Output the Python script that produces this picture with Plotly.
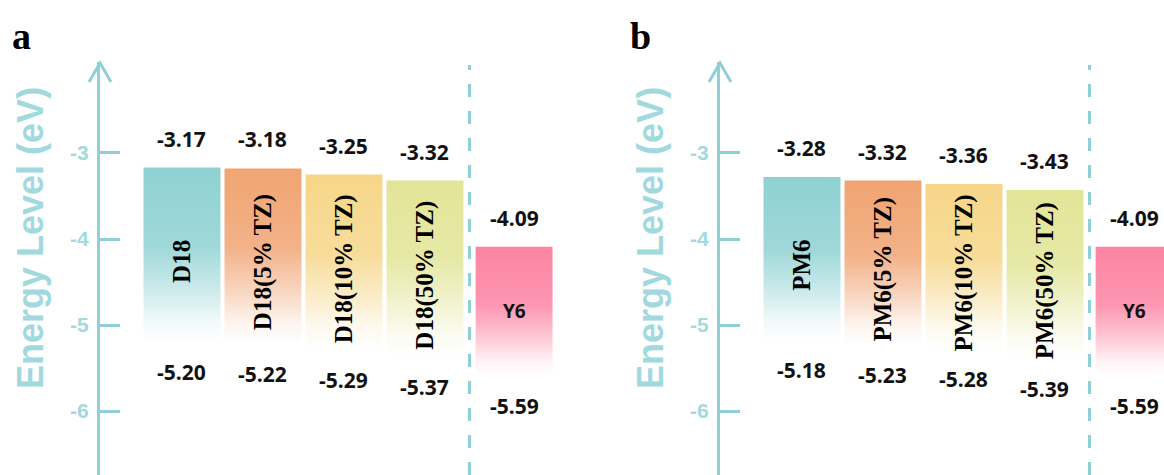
import plotly.graph_objects as go

# ---------------- data ----------------
names_a = ["D18", "D18(5% TZ)", "D18(10% TZ)", "D18(50% TZ)", "Y6"]
lumo_a = [-3.17, -3.18, -3.25, -3.32, -4.09]
homo_a = [-5.20, -5.22, -5.29, -5.37, -5.59]

names_b = ["PM6", "PM6(5% TZ)", "PM6(10% TZ)", "PM6(50% TZ)", "Y6"]
lumo_b = [-3.28, -3.32, -3.36, -3.43, -4.09]
homo_b = [-5.18, -5.23, -5.28, -5.39, -5.59]

colors = ["#8fd1d2", "#f0a472", "#f6d688", "#e2e597", "#fc84a3"]
yticks = [-3, -4, -5, -6]

# ---------------- style ----------------
W, H = 1164, 475
AXC = "#8ecfd8"
TICKC = "#a3d9df"
TITLEC = "#a2d9df"
positions = [0, 1, 2, 3, 4.1]   # category slots (Y6 separated by the divider)
divider = 3.55
bw = 0.95
yrange = [-6.744, -1.942]
top_px = 62
ydom = [0, 1 - top_px / H]
xr_a = [-1.012, -1.012 + 470 / 81]
xr_b = [-1.012, -1.012 + 444 / 81]
dom_a = [100 / W, 570 / W]
dom_b = [720 / W, 1.0]

def rgba(hexc, a):
    h = hexc.lstrip("#")
    r, g, b = int(h[0:2], 16), int(h[2:4], 16), int(h[4:6], 16)
    return f"rgba({r},{g},{b},{a})"

def py(px):
    """pixel row -> paper y (margins are zero)"""
    return 1 - px / H

fig = go.Figure()
annotations = []
shapes = []

panels = [
    ("x", "y", names_a, lumo_a, homo_a, "a", dom_a, 10),
    ("x2", "y2", names_b, lumo_b, homo_b, "b", dom_b, 628),
]

vfont = dict(family="Open Sans", size=21, color="#111111", weight="bold")
nfont = dict(family="Liberation Serif", size=25, color="#000000", weight="bold")

for xa, ya, names, lumo, homo, letter, dom, letter_px in panels:
    for i, (nm, top, bot) in enumerate(zip(names, lumo, homo)):
        c = positions[i]
        col = colors[i]
        fig.add_trace(go.Scatter(
            x=[c - bw / 2, c + bw / 2, c + bw / 2, c - bw / 2, c - bw / 2],
            y=[bot, bot, top, top, bot],
            mode="lines", line=dict(width=0), fill="toself",
            fillgradient=dict(
                type="vertical",
                colorscale=[[0, rgba(col, 0.0)], [0.12, rgba(col, 0.12)],
                            [0.3, rgba(col, 0.45)], [0.55, rgba(col, 0.85)],
                            [1, rgba(col, 1.0)]],
            ),
            xaxis=xa, yaxis=ya, showlegend=False, hoverinfo="skip",
        ))
        annotations.append(dict(x=c, y=top, xref=xa, yref=ya, text=f"{top:.2f}",
                                showarrow=False, yanchor="middle", yshift=29, font=vfont))
        annotations.append(dict(x=c, y=bot, xref=xa, yref=ya, text=f"{bot:.2f}",
                                showarrow=False, yanchor="middle", yshift=-30, font=vfont))
        mid = (top + bot) / 2
        if nm == "Y6":
            annotations.append(dict(x=c, y=mid, xref=xa, yref=ya, text="Y6", showarrow=False,
                                    font=dict(family="Open Sans", size=19,
                                              color="#111111", weight="bold")))
        else:
            annotations.append(dict(x=c, y=mid, xref=xa, yref=ya, text=nm, showarrow=False,
                                    textangle=-90, yshift=-6, font=nfont))
    # divider dashed line
    shapes.append(dict(type="line", xref=xa, yref="paper", x0=divider, x1=divider,
                       y0=0, y1=py(65), line=dict(color=AXC, width=3, dash="13px,14px")))
    # arrowhead at top of the axis
    x0 = dom[0]
    shapes.append(dict(type="path", xref="paper", yref="paper",
                       path=f"M {x0 - 11 / W},{py(82)} L {x0},{py(63)} L {x0 + 11 / W},{py(82)}",
                       line=dict(color=AXC, width=3)))
    # panel letter
    annotations.append(dict(x=letter_px / W, y=py(36), xref="paper", yref="paper", text=letter,
                            showarrow=False, xanchor="left", yanchor="middle",
                            font=dict(family="Liberation Serif", size=38, color="#000000",
                                      weight="bold")))
    # axis title
    annotations.append(dict(x=(x0 * W - 70) / W, y=py(238), xref="paper", yref="paper",
                            text="Energy Level (eV)", showarrow=False, textangle=-90,
                            xanchor="center", yanchor="middle",
                            font=dict(family="Liberation Sans", size=36, color=TITLEC,
                                      weight="bold")))

axis_common = dict(range=yrange, domain=ydom, tickvals=yticks, ticktext=[str(t) for t in yticks],
                   ticks="inside", ticklen=20, tickwidth=3, tickcolor=AXC,
                   showline=True, linecolor=AXC, linewidth=3, showgrid=False,
                   zeroline=False,
                   tickfont=dict(family="Liberation Sans", size=21, color=TICKC, weight="bold"),
                   ticklabelstandoff=4, fixedrange=True)

fig.update_layout(
    width=W, height=H,
    margin=dict(l=0, r=0, t=0, b=0),
    paper_bgcolor="white", plot_bgcolor="rgba(0,0,0,0)",
    xaxis=dict(domain=dom_a, range=xr_a, visible=False, fixedrange=True),
    xaxis2=dict(domain=dom_b, range=xr_b, visible=False, fixedrange=True),
    yaxis=dict(anchor="x", **axis_common),
    yaxis2=dict(anchor="x2", **axis_common),
    annotations=annotations, shapes=shapes,
)

fig.write_html("out.html")
